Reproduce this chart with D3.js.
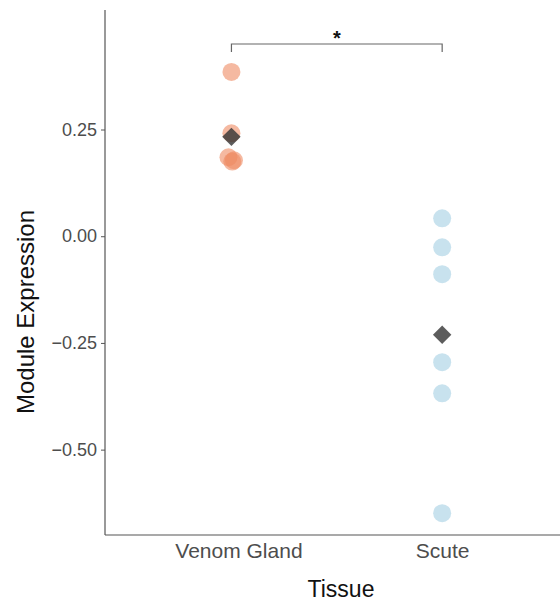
<!DOCTYPE html>
<html><head><meta charset="utf-8">
<script src="https://cdn.jsdelivr.net/npm/d3@7"></script>
<style>body{margin:0;background:#fff}svg{display:block}</style>
</head><body>
<script>
const categories = ["Venom Gland", "Scute"];
const venomValues = [0.385, 0.241, 0.185, 0.178, 0.175];
const venomJitter = [0.0, 0.0, -0.014, 0.012, 0.004];
const scuteValues = [0.042, -0.026, -0.089, -0.295, -0.368, -0.649];
const scuteJitter = [0, 0, 0, 0, 0, 0];
const yTicks = [-0.50, -0.25, 0.00, 0.25];
const sigLabel = "*";

(function(){
const W = 560, H = 602;
const svg = d3.select("body").append("svg").attr("width", W).attr("height", H);
const mLeft = 105, mTop = 10, mBottom = 535;
const x = d3.scalePoint().domain(categories).range([mLeft, 568.6]).padding(0.6);
const y = d3.scaleLinear().domain([-0.70, 0.53]).range([mBottom, mTop]);
const step = x.step();
const font = "'Liberation Sans', Arial, sans-serif";

const pts = [];
venomValues.forEach((v, i) => pts.push({cat: categories[0], v, j: venomJitter[i], col: "#EF8A62", op: 0.6}));
scuteValues.forEach((v, i) => pts.push({cat: categories[1], v, j: scuteJitter[i], col: "#92C5DE", op: 0.5}));

svg.append("g").selectAll("circle").data(pts).join("circle")
  .attr("cx", d => x(d.cat) + d.j * step)
  .attr("cy", d => y(d.v))
  .attr("r", 9)
  .attr("fill", d => d.col).attr("fill-opacity", d => d.op);

const means = [
  {cat: categories[0], v: d3.mean(venomValues)},
  {cat: categories[1], v: d3.mean(scuteValues)}
];
svg.append("g").selectAll("path").data(means).join("path")
  .attr("d", d3.symbol(d3.symbolSquare, 170))
  .attr("transform", d => `translate(${x(d.cat)},${y(d.v)}) rotate(45)`)
  .attr("fill", "#333").attr("fill-opacity", 0.8);

const yAxis = svg.append("g").attr("transform", `translate(${mLeft},0)`)
  .call(d3.axisLeft(y).tickValues(yTicks).tickFormat(d3.format(".2f")).tickSize(4).tickPadding(4));
yAxis.select(".domain").attr("d", `M0,${mTop}V${mBottom}`).attr("stroke", "#555").attr("stroke-width", 1.2);
yAxis.selectAll(".tick line").attr("stroke", "#555");
yAxis.selectAll("text").attr("fill", "#4d4d4d").style("font-size", "18px").style("font-family", font);

const xAxis = svg.append("g").attr("transform", `translate(0,${mBottom})`)
  .call(d3.axisBottom(x).tickSize(0).tickPadding(8));
xAxis.select(".domain").attr("d", `M${mLeft},0H${W}`).attr("stroke", "#555").attr("stroke-width", 1.2);
xAxis.selectAll("text").attr("fill", "#4d4d4d").style("font-size", "21px").style("font-family", font)
  .attr("dx", (d, i) => i === 0 ? 7 : 0);

svg.append("text").attr("x", 341).attr("y", 597).attr("text-anchor", "middle")
  .style("font-size", "23px").style("font-family", font).attr("fill", "#111").text("Tissue");
svg.append("text").attr("transform", `translate(34,312) rotate(-90)`)
  .attr("text-anchor", "middle").style("font-size", "24px").style("font-family", font)
  .attr("fill", "#111").text("Module Expression");

const by = 44, x1 = x(categories[0]), x2 = x(categories[1]);
svg.append("path").attr("d", `M${x1},${by+8}V${by}H${x2}V${by+8}`)
  .attr("fill", "none").attr("stroke", "#666").attr("stroke-width", 1.2);
svg.append("text").attr("x", (x1+x2)/2).attr("y", by + 1).attr("text-anchor", "middle")
  .style("font-size", "20px").style("font-family", font).style("font-weight", "bold").attr("fill", "#111").text(sigLabel);
})();
</script>
</body></html>
